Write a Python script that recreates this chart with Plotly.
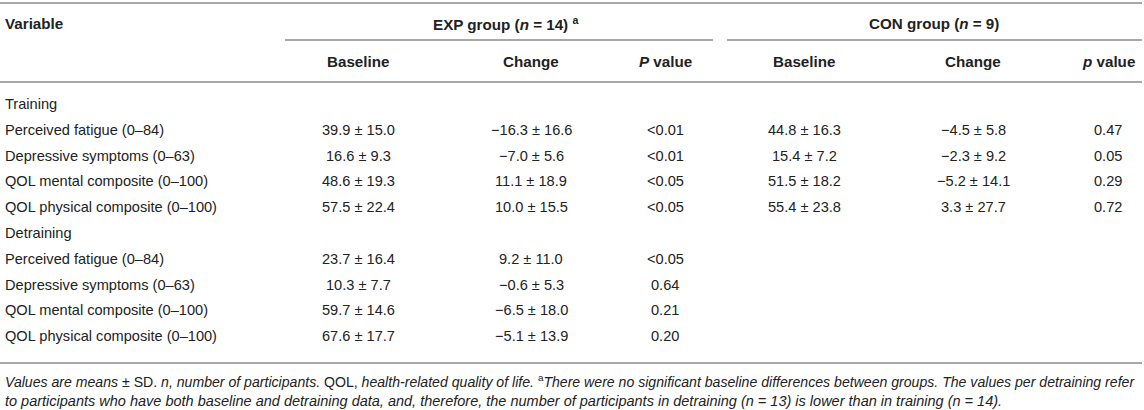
import plotly.graph_objects as go

# ---------------- data ----------------
sections = ["Training", "Detraining"]
variables = [
    "Perceived fatigue (0–84)",
    "Depressive symptoms (0–63)",
    "QOL mental composite (0–100)",
    "QOL physical composite (0–100)",
]
exp_baseline_training = ["39.9 ± 15.0", "16.6 ± 9.3", "48.6 ± 19.3", "57.5 ± 22.4"]
exp_change_training = ["−16.3 ± 16.6", "−7.0 ± 5.6", "11.1 ± 18.9", "10.0 ± 15.5"]
exp_p_training = ["<0.01", "<0.01", "<0.05", "<0.05"]
con_baseline_training = ["44.8 ± 16.3", "15.4 ± 7.2", "51.5 ± 18.2", "55.4 ± 23.8"]
con_change_training = ["−4.5 ± 5.8", "−2.3 ± 9.2", "−5.2 ± 14.1", "3.3 ± 27.7"]
con_p_training = ["0.47", "0.05", "0.29", "0.72"]
exp_baseline_detraining = ["23.7 ± 16.4", "10.3 ± 7.7", "59.7 ± 14.6", "67.6 ± 17.7"]
exp_change_detraining = ["9.2 ± 11.0", "−0.6 ± 5.3", "−6.5 ± 18.0", "−5.1 ± 13.9"]
exp_p_detraining = ["<0.05", "0.64", "0.21", "0.20"]
con_baseline_detraining = ["", "", "", ""]
con_change_detraining = ["", "", "", ""]
con_p_detraining = ["", "", "", ""]

group_headers = ["EXP group (<i>n</i> = 14) <sup>a</sup>", "CON group (<i>n</i> = 9)"]
sub_headers = ["Baseline", "Change", "<i>P</i> value", "Baseline", "Change", "<i>p</i> value"]
footnote_lines = [
    "<i>Values are means</i> ± SD. <i>n, number of participants.</i> QOL, <i>health-related quality of life.</i> "
    "<sup>a</sup><i>There were no significant baseline differences between groups. The values per detraining refer</i>",
    "<i>to participants who have both baseline and detraining data, and, therefore, the number of participants "
    "in detraining (n = 13) is lower than in training (n = 14).</i>",
]

# ---------------- layout constants ----------------
W, H = 1144, 410
FONT = "Liberation Sans, Arial, Helvetica, sans-serif"
TXT = "#222222"
LINE = "#a8a8a8"
BODY = 14.6
HEAD = 15.2
col_x = [358, 531, 665, 804, 973, 1108]
group_x = [505, 934]
first_row_y = 104
row_step = 25.8

fig = go.Figure()
fig.update_layout(
    width=W, height=H,
    margin=dict(l=0, r=0, t=0, b=0),
    paper_bgcolor="white", plot_bgcolor="white",
    xaxis=dict(range=[0, W], visible=False, fixedrange=True),
    yaxis=dict(range=[H, 0], visible=False, fixedrange=True),
    showlegend=False,
)
fig.add_trace(go.Scatter(x=[0, W], y=[0, H], mode="markers", marker=dict(opacity=0), hoverinfo="skip"))

ann = []
def text(x, y, s, size=BODY, anchor="center", bold=False, color=TXT):
    if bold:
        s = "<b>" + s + "</b>"
    ann.append(dict(x=x, y=y, xref="x", yref="y", text=s, showarrow=False,
                    xanchor=anchor, yanchor="middle",
                    font=dict(family=FONT, size=size, color=color)))

# header
text(3, 23, "Variable", size=HEAD, anchor="left", bold=True)
for gx, g in zip(group_x, group_headers):
    text(gx, 23, g, size=HEAD, bold=True)
for cx, s in zip(col_x, sub_headers):
    text(cx, 61, s, size=HEAD, bold=True)

# body
section_data = [
    [exp_baseline_training, exp_change_training, exp_p_training,
     con_baseline_training, con_change_training, con_p_training],
    [exp_baseline_detraining, exp_change_detraining, exp_p_detraining,
     con_baseline_detraining, con_change_detraining, con_p_detraining],
]
r = 0
for sec, cols in zip(sections, section_data):
    y = first_row_y + r * row_step
    text(3, y, sec, anchor="left")
    r += 1
    for i, var in enumerate(variables):
        y = first_row_y + r * row_step
        text(3, y, var, anchor="left")
        for cx, col in zip(col_x, cols):
            if col[i]:
                text(cx, y, col[i])
        r += 1

# footnote
text(3, 381, footnote_lines[0], size=14.1, anchor="left")
text(3, 401, footnote_lines[1], size=14.5, anchor="left")

shapes = []
def hline(x0, x1, y, w=2):
    shapes.append(dict(type="line", xref="x", yref="y", x0=x0, x1=x1, y0=y, y1=y,
                       line=dict(color=LINE, width=w)))
hline(0, 1142, 3)
hline(285, 713, 40)
hline(727, 1142, 40)
hline(0, 1142, 82)
hline(0, 1142, 363)

fig.update_layout(annotations=ann, shapes=shapes)
fig.write_html(
    "out.html",
    config={"displayModeBar": False},
    post_script="document.body.style.margin='0';document.body.style.overflow='hidden';",
)
